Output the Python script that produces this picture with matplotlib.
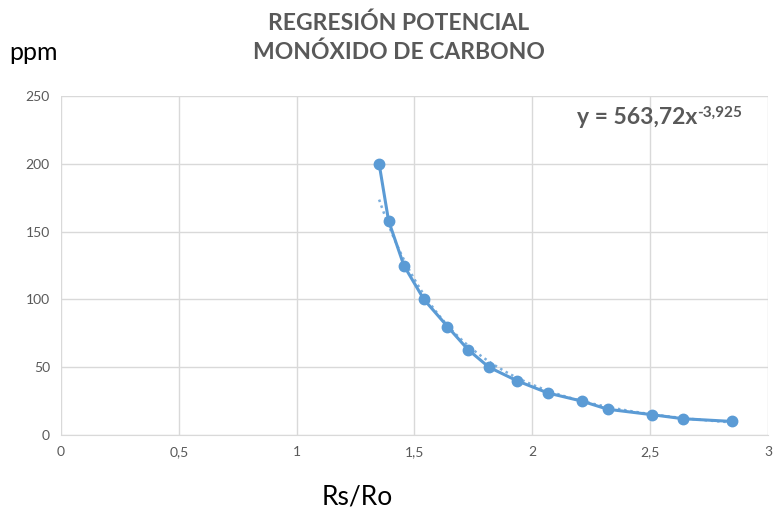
import numpy as np
import matplotlib.pyplot as plt

rs_ro = [1.35, 1.39, 1.455, 1.54, 1.64, 1.727, 1.816, 1.935, 2.066, 2.21, 2.32, 2.507, 2.64, 2.847]
ppm = [200, 158, 125, 100, 80, 63, 50, 40, 31, 25, 19, 15, 12, 10]

coef_a = 563.72
coef_b = -3.925

x_ticks = [0, 0.5, 1, 1.5, 2, 2.5, 3]
x_labels = ["0", "0,5", "1", "1,5", "2", "2,5", "3"]
y_ticks = [0, 50, 100, 150, 200, 250]

gray = "#595959"
blue = "#5b9bd5"

plt.rcParams['font.family'] = ['Lato', 'DejaVu Sans']

fig = plt.figure(figsize=(7.74, 5.17), dpi=100)
ax = fig.add_axes([0.0788, 0.1586, 0.9134, 0.6557])

xt = np.linspace(min(rs_ro), max(rs_ro), 300)
ax.plot(xt, coef_a * xt ** coef_b, linestyle=(0, (1, 1.5)), color=blue, linewidth=1.8, alpha=0.8)
ax.plot(rs_ro, ppm, color=blue, linewidth=2.2, marker="o", markersize=7.5)

ax.set_xlim(0, 3)
ax.set_ylim(0, 250)
ax.set_xticks(x_ticks)
ax.set_xticklabels(x_labels)
ax.set_yticks(y_ticks)
ax.grid(True, color="#d9d9d9", linewidth=1)
ax.set_axisbelow(True)
for s in ["top", "right", "left"]:
    ax.spines[s].set_visible(False)
ax.spines["bottom"].set_color("#d9d9d9")
ax.tick_params(length=0, colors=gray, labelsize=10, pad=8)

fig.text(0.515, 0.975, "REGRESIÓN POTENCIAL\nMONÓXIDO DE CARBONO", ha="center", va="top",
         fontsize=16.5, fontweight="bold", color=gray, linespacing=1.4)
fig.text(0.012, 0.898, "ppm", fontsize=18, color="black", va="center")
fig.text(0.462, 0.038, "Rs/Ro", fontsize=19, color="black", ha="center", va="center")

t = ax.text(2.19, 234, "y = 563,72x", fontsize=16.5, fontweight="bold", color=gray, va="center")
ax.annotate("-3,925", xy=(1, 1), xycoords=t, va="top", ha="left", fontsize=11,
            fontweight="bold", color=gray, xytext=(0, 1), textcoords="offset points")

plt.savefig("out.png")
